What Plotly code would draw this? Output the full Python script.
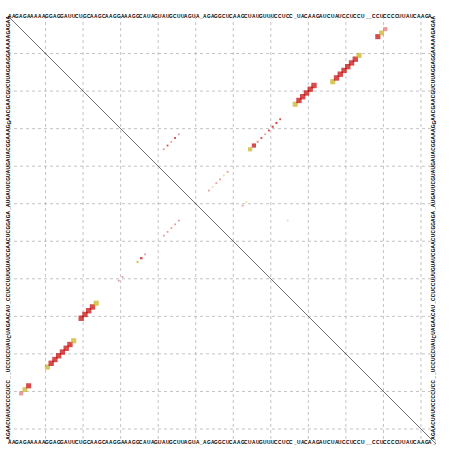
import math
import plotly.graph_objects as go

# ---------------- data ----------------
sequence = ("AAGAGAAAAAGGAGGAUUCUGCAA" "GCAAGGAAAGGCAUAGUAUGCUU" "AGUA" "_"
            "AGAGGCUCAAGCUAUGU" "UUCCUCC" "_" "UACAAGAUCUAUCCUCC"
            "U" "__" "CCUCCCCUUAUCAAGA" "_")

# upper triangle (pair probabilities): column i, row j
upper_i = [99, 100, 101,
           87, 88, 89, 90, 91, 92, 93, 94,
           77, 78, 79, 80, 81, 82,
           65, 66, 67, 68, 69, 70, 71, 72, 73,
           54, 55, 56, 57, 58, 59,
           42, 43, 44, 45, 46,
           63, 64, 75]
upper_j = [6, 5, 4,
           18, 17, 16, 15, 14, 13, 12, 11,
           24, 23, 22, 21, 20, 19,
           36, 35, 34, 33, 32, 31, 30, 29, 28,
           47, 46, 45, 44, 43, 42,
           36, 35, 34, 33, 32,
           51, 50, 55]
upper_p = [0.9, 0.8, 0.6,
           0.9, 1.0, 1.0, 1.0, 1.0, 1.0, 1.0, 0.9,
           0.9, 1.0, 1.0, 1.0, 1.0, 1.0,
           0.6, 0.6, 0.15, 0.12, 0.08, 0.12, 0.15, 0.15, 0.12,
           0.05, 0.05, 0.06, 0.06, 0.06, 0.05,
           0.06, 0.06, 0.06, 0.06, 0.05,
           0.06, 0.06, 0.03]
upper_types = [1, 2, 1,
               2, 1, 1, 1, 1, 1, 1, 2,
               2, 1, 1, 1, 1, 1,
               2, 1, 1, 1, 1, 1, 1, 1, 1,
               1, 2, 1, 1, 2, 1,
               1, 1, 1, 1, 1,
               1, 2, 1]
upper_counter = [0, 0, 1,
                 0, 0, 0, 0, 0, 0, 0, 0,
                 0, 0, 0, 0, 0, 0,
                 0, 0, 1, 0, 1, 0, 0, 0, 0,
                 1, 1, 1, 1, 1, 1,
                 1, 0, 1, 0, 1,
                 1, 1, 2]

# lower triangle (MFE-like structure)
lower_i = [4, 5, 6,
           11, 12, 13, 14, 15, 16, 17, 18,
           20, 21, 22, 23, 24,
           30, 31, 35, 36, 37,
           42, 43, 44, 45, 46]
lower_j = [101, 100, 99,
           94, 93, 92, 91, 90, 89, 88, 87,
           81, 80, 79, 78, 77,
           71, 70, 66, 65, 64,
           59, 58, 57, 56, 55]
lower_p = [0.6, 0.8, 0.9,
           0.9, 1.0, 1.0, 1.0, 1.0, 1.0, 1.0, 0.9,
           1.0, 1.0, 1.0, 1.0, 0.9,
           0.1, 0.1, 0.15, 0.2, 0.12,
           0.05, 0.05, 0.05, 0.05, 0.05]
lower_types = [1, 2, 1,
               2, 1, 1, 1, 1, 1, 1, 2,
               1, 1, 1, 1, 2,
               1, 1, 2, 1, 1,
               1, 1, 1, 1, 1]
lower_counter = [1, 0, 0,
                 0, 0, 0, 0, 0, 0, 0, 0,
                 0, 0, 0, 0, 0,
                 1, 1, 0, 0, 1,
                 1, 1, 1, 1, 1]

# ---------------- styling ----------------
N = len(sequence)
CELL_PX = 5.4

def colour(t, c):
    base = {1: (195, 0, 0), 2: (200, 175, 25)}[t]
    fade = {0: 0.0, 1: 0.45, 2: 0.75}[c]
    r, g, b = [round(v + (255 - v) * fade) for v in base]
    return f"rgb({r},{g},{b})"

def sizes(ps):
    return [max(1.8, math.sqrt(p) * CELL_PX) for p in ps]

fig = go.Figure()

grid_pos = [k * 10 + 0.5 for k in range(1, 12)]
gridline = dict(color="#b4b4b4", width=0.8, dash="3px,3px")
for g in grid_pos:
    fig.add_shape(type="line", x0=g, x1=g, y0=0.5, y1=N + 0.5,
                  line=gridline, layer="below")
    fig.add_shape(type="line", y0=g, y1=g, x0=0.5, x1=N + 0.5,
                  line=gridline, layer="below")

fig.add_shape(type="line", x0=0.5, y0=0.5, x1=N + 0.5, y1=N + 0.5,
              line=dict(color="#333333", width=0.7))

for xs, ys, ps, ts, cs in [(upper_i, upper_j, upper_p, upper_types, upper_counter),
                           (lower_i, lower_j, lower_p, lower_types, lower_counter)]:
    fig.add_trace(go.Scatter(
        x=xs, y=ys, mode="markers",
        marker=dict(symbol="square", size=sizes(ps),
                    color=[colour(t, c) for t, c in zip(ts, cs)],
                    line=dict(width=0)),
        hoverinfo="skip", showlegend=False))

# sequence on all four sides
font = dict(family="Liberation Sans, Arial", size=4.8, color="black", weight="bold")
ann = []
for k, ch in enumerate(sequence, start=1):
    ann.append(dict(x=k, y=1, xref="x", yref="paper", yshift=4, text=ch,
                    showarrow=False, font=font))
    ann.append(dict(x=k, y=0, xref="x", yref="paper", yshift=-3, text=ch,
                    showarrow=False, font=font))
    ann.append(dict(x=0, y=k, xref="paper", yref="y", xshift=-4, text=ch,
                    showarrow=False, font=font, textangle=-90))
    ann.append(dict(x=1, y=k, xref="paper", yref="y", xshift=2, text=ch,
                    showarrow=False, font=font, textangle=-90))
fig.update_layout(annotations=ann)

fig.update_xaxes(range=[0.5, N + 0.5], showgrid=False, zeroline=False,
                 showticklabels=False, ticks="", showline=False)
fig.update_yaxes(range=[N + 0.5, 0.5], showgrid=False, zeroline=False,
                 showticklabels=False, ticks="", showline=False)
fig.update_layout(width=452, height=451,
                  margin=dict(l=8, r=16, t=16, b=7),
                  paper_bgcolor="white", plot_bgcolor="white")

fig.write_html("out.html", config={"displayModeBar": False},
               post_script="document.body.style.margin='0';document.body.style.overflow='hidden';")
